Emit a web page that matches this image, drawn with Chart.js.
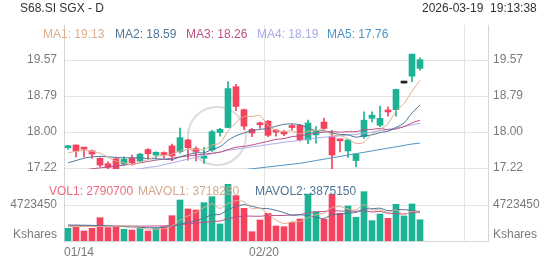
<!DOCTYPE html>
<html>
<head>
<meta charset="utf-8">
<title>S68.SI SGX - D</title>
<script src="https://cdn.jsdelivr.net/npm/chart.js@4.4.1/dist/chart.umd.min.js"></script>
<style>
  html, body { margin: 0; padding: 0; background: #fff; }
  #wrap { position: relative; width: 552px; height: 265px; overflow: hidden;
          font-family: 'Liberation Sans', Arial, sans-serif; font-size: 12px; }
  #chart { position: absolute; left: 0; top: 0; }
  .txt { position: absolute; white-space: pre; line-height: 14px; }
</style>
</head>
<body>
<div id="wrap">
  <canvas id="chart" width="552" height="265"></canvas>
  <div class="txt" style="left:20px;top:1px;color:#333">S68.SI SGX - D</div>
  <div class="txt" style="left:422px;top:1px;color:#333">2026-03-19  19:13:38</div>
</div>
<script>
// ---- data ----
const dates = ['01/14','01/15','01/16','01/19','01/20','01/21','01/22','01/23','01/26','01/27','01/28','01/29','01/30',
  '02/02','02/03','02/04','02/05','02/06','02/09','02/10','02/11','02/12','02/13','02/16','02/19','02/20',
  '02/23','02/24','02/25','02/26','02/27','03/02','03/03','03/04','03/05','03/06',
  '03/09','03/10','03/11','03/12','03/13','03/16','03/17','03/18','03/19'];
const emptySlots = 8;

const opens  = [17.66,17.72,17.66,17.59,17.43,17.31,17.42,17.30,17.43,17.37,17.62,17.50,17.54,17.70,17.57,17.83,17.64,17.43,17.61,17.99,
  18.10,18.99,18.49,18.06,18.18,18.24,18.03,18.00,18.12,18.15,17.83,17.94,18.22,17.90,17.84,17.59,17.38,17.90,18.30,18.15,
  18.47,18.49,19.07,19.22,19.39];
const highs  = [17.71,17.72,17.66,17.61,17.44,17.35,17.44,17.46,17.50,17.54,17.64,17.57,17.57,17.74,18.09,17.84,17.68,17.67,18.04,18.08,
  19.10,19.04,18.50,18.08,18.22,18.25,18.06,18.04,18.17,18.17,18.26,18.12,18.30,18.04,17.84,17.84,17.53,18.44,18.44,18.57,
  18.55,18.94,19.07,19.70,19.62];
const lows   = [17.63,17.46,17.46,17.43,17.24,17.18,17.17,17.28,17.28,17.34,17.43,17.44,17.43,17.38,17.54,17.39,17.37,17.32,17.58,17.91,
  18.09,18.47,18.06,17.90,18.08,17.90,17.91,17.92,18.05,17.80,17.75,17.76,18.06,17.14,17.57,17.45,17.24,17.86,18.22,18.12,
  18.35,18.35,19.07,19.10,19.35];
const closes = [17.67,17.59,17.63,17.52,17.28,17.23,17.19,17.41,17.33,17.52,17.53,17.56,17.51,17.48,17.88,17.66,17.58,17.48,18.01,18.06,
  18.95,18.56,18.13,17.98,18.16,17.93,18.00,17.96,18.10,17.83,18.20,18.04,18.08,17.50,17.81,17.83,17.52,18.26,18.37,18.30,
  18.44,18.93,19.07,19.70,19.58];

const ma1 = [17.55,17.58,17.60,17.58,17.54,17.45,17.37,17.33,17.29,17.34,17.40,17.47,17.49,17.52,17.59,17.62,17.62,17.62,17.72,17.76,
  18.02,18.21,18.34,18.34,18.36,18.15,18.04,18.01,18.03,17.96,18.02,18.03,18.05,17.93,17.93,17.85,17.75,17.78,17.96,18.06,
  18.18,18.46,18.62,18.89,19.13];
const ma2 = [17.33,17.38,17.43,17.46,17.47,17.46,17.45,17.44,17.44,17.44,17.42,17.42,17.41,17.40,17.46,17.51,17.55,17.55,17.62,17.68,
  17.82,17.92,17.98,18.03,18.06,18.08,18.13,18.17,18.18,18.16,18.09,18.03,18.03,17.98,17.95,17.94,17.89,17.92,17.94,17.99,
  18.02,18.10,18.20,18.42,18.59];
const ma3 = [17.12,17.14,17.17,17.20,17.22,17.24,17.26,17.28,17.30,17.33,17.36,17.39,17.41,17.43,17.46,17.48,17.50,17.52,17.54,17.56,
  17.62,17.67,17.69,17.72,17.76,17.80,17.84,17.86,17.90,17.92,17.95,17.98,18.00,18.01,18.00,18.01,18.01,18.05,18.06,18.08,
  18.05,18.07,18.12,18.20,18.26];
const ma4 = [16.98,17.00,17.03,17.05,17.08,17.10,17.13,17.15,17.18,17.20,17.23,17.25,17.29,17.33,17.37,17.41,17.45,17.49,17.53,17.57,
  17.60,17.63,17.65,17.68,17.70,17.73,17.75,17.78,17.80,17.82,17.85,17.87,17.89,17.90,17.92,17.94,17.95,17.98,18.00,18.03,
  18.06,18.09,18.12,18.16,18.19];
const ma5 = [16.93,16.935,16.94,16.95,16.955,16.96,16.965,16.97,16.98,16.99,17.00,17.01,17.02,17.035,17.05,17.06,17.075,17.09,17.10,17.12,
  17.14,17.16,17.18,17.20,17.22,17.24,17.26,17.28,17.30,17.32,17.35,17.38,17.41,17.44,17.47,17.50,17.53,17.56,17.59,17.62,
  17.65,17.68,17.71,17.74,17.76];

const volumes = [1670000,1800000,1310000,1670000,3060000,1750000,1880000,1530000,1440000,1750000,1310000,1670000,1880000,3320000,5380000,
  4200000,4070000,5030000,5820000,2230000,7440000,5950000,4290000,1220000,2760000,3630000,1970000,1880000,2410000,2890000,
  6170000,3850000,2840000,6120000,3630000,4590000,3110000,6470000,2670000,3540000,2970000,4810000,3280000,4860000,2790700];
const mavol1 = [1.88e6,1.88e6,1.89e6,1.90e6,1.90e6,1.92e6,1.93e6,1.98e6,1.93e6,1.67e6,1.58e6,1.54e6,1.61e6,1.99e6,2.71e6,
  3.29e6,3.77e6,4.40e6,4.90e6,4.27e6,4.92e6,5.29e6,5.15e6,4.23e6,4.33e6,3.57e6,2.77e6,2.29e6,2.53e6,2.56e6,
  3.06e6,3.44e6,3.63e6,4.37e6,4.52e6,4.21e6,4.06e6,4.78e6,4.09e6,4.08e6,3.75e6,4.09e6,3.45e6,3.89e6,3718280];
const mavol2 = [2.10e6,2.09e6,2.07e6,2.05e6,2.02e6,1.98e6,1.93e6,1.88e6,1.83e6,1.79e6,1.75e6,1.74e6,1.79e6,1.96e6,2.19e6,
  2.44e6,2.66e6,3.01e6,3.44e6,3.49e6,4.10e6,4.53e6,4.77e6,4.56e6,4.30e6,4.24e6,4.03e6,3.72e6,3.38e6,3.44e6,
  3.32e6,3.11e6,2.96e6,3.45e6,3.54e6,3.64e6,3.75e6,4.21e6,4.23e6,4.30e6,3.98e6,4.08e6,4.12e6,3.99e6,3875150];
const mavol3 = [2.00e6,2.00e6,1.99e6,1.99e6,1.98e6,1.98e6,1.97e6,1.97e6,1.96e6,1.96e6,1.96e6,1.97e6,1.99e6,2.05e6,2.15e6,
  2.25e6,2.35e6,2.45e6,2.55e6,2.64e6,2.93e6,3.13e6,3.28e6,3.26e6,3.25e6,3.34e6,3.34e6,3.36e6,3.41e6,3.47e6,
  3.71e6,3.82e6,3.87e6,4.01e6,3.92e6,3.94e6,3.89e6,3.96e6,3.81e6,3.87e6,3.65e6,3.59e6,3.54e6,3.72e6,3.72e6];

const priceTicks = [17.2175, 18.0025, 18.7875, 19.5725];
const volTick = 4723450;
const volUnit = 'Kshares';

// ---- style ----
const TEAL = '#1bb394', RED = '#f4425f', FLAT = '#222';
const GRID = '#e4e4e4', BORDER = '#d6d6d6', TEXT = '#7a7a7a';
const maNames = ['MA1', 'MA2', 'MA3', 'MA4', 'MA5'];
const maColors = ['#dcae8f', '#4f7598', '#bd4f86', '#aaaaea', '#4a94c4'];
const maLegendX = [43, 115, 186, 257, 327];
const volNames = ['VOL1', 'MAVOL1', 'MAVOL2'];
const volLegendColors = ['#f0687c', '#d3a98d', '#4f7598'];
const volLegendX = [49, 138, 255];
const mavolColors = ['#dcae8f', '#4f7598', '#bd4f86'];

Chart.defaults.font.family = "'Liberation Sans', Arial, sans-serif";
Chart.defaults.font.size = 12;
Chart.defaults.color = TEXT;

const labels = dates.concat(Array(emptySlots).fill(''));
const candleColors = opens.map((o, i) => closes[i] > o ? TEAL : closes[i] < o ? RED : FLAT);
const volColors = opens.map((o, i) => closes[i] >= o ? TEAL : RED);

// legends (html text)
const wrap = document.getElementById('wrap');
function addText(text, x, y, color) {
  const d = document.createElement('div');
  d.className = 'txt';
  d.style.left = x + 'px';
  d.style.top = y + 'px';
  d.style.color = color;
  d.textContent = text;
  wrap.appendChild(d);
}
[ma1, ma2, ma3, ma4, ma5].forEach((s, i) => addText(maNames[i] + ': ' + s[s.length - 1].toFixed(2), maLegendX[i], 27, maColors[i]));
[volumes, mavol1, mavol2].forEach((s, i) => addText(volNames[i] + ': ' + s[s.length - 1], volLegendX[i], 184, volLegendColors[i]));

// faint logo watermark behind the candles
const watermark = {
  id: 'watermark',
  beforeDatasetsDraw(chart) {
    const ctx = chart.ctx;
    ctx.save();
    ctx.strokeStyle = 'rgba(190,190,190,0.55)';
    ctx.lineWidth = 2;
    ctx.beginPath();
    ctx.arc(217, 136, 29, 0, Math.PI * 2);
    ctx.stroke();
    ctx.restore();
  }
};

const lineDs = (data, color, axis) => ({
  type: 'line', data, yAxisID: axis, borderColor: color, borderWidth: 1,
  pointRadius: 0, tension: 0.25, fill: false, order: 0
});

const fixWidth = w => scale => { scale.width = w; };
const priceAxis = (pos, weight, pad, grid) => ({
  type: 'linear', position: pos, stack: pos, stackWeight: 144, weight,
  min: 17.1957, max: 20.3357,
  afterBuildTicks: s => { s.ticks = priceTicks.map(v => ({ value: v })); },
  afterFit: fixWidth(64),
  grid: { display: grid, color: GRID, drawTicks: false },
  border: { display: true, color: BORDER },
  ticks: { padding: pad, callback: v => v.toFixed(2) }
});
const volAxis = (pos, weight, pad, grid) => ({
  type: 'linear', position: pos, stack: pos, stackWeight: 72, weight,
  min: 0, max: volTick * 2,
  afterBuildTicks: s => { s.ticks = [{ value: volTick * 2 / 12 }, { value: volTick }]; },
  afterFit: fixWidth(64),
  grid: { display: grid, drawTicks: false, color: c => (c.tick && c.tick.value === volTick) ? GRID : 'rgba(0,0,0,0)' },
  border: { display: true, color: BORDER },
  ticks: { padding: pad, callback: v => v === volTick ? String(volTick) : volUnit }
});

new Chart(document.getElementById('chart'), {
  type: 'bar',
  data: {
    labels,
    datasets: [
      { data: lows.map((l, i) => [l, highs[i]]), yAxisID: 'yP', backgroundColor: candleColors,
        barThickness: 1, grouped: false, order: 2 },
      { data: opens.map((o, i) => [o, closes[i]]), yAxisID: 'yP', backgroundColor: candleColors,
        barThickness: 6, minBarLength: 2, grouped: false, order: 1 },
      { data: volumes, yAxisID: 'yV', backgroundColor: volColors, barThickness: 6, grouped: false, order: 3 },
      lineDs(ma1, maColors[0], 'yP'),
      lineDs(ma2, maColors[1], 'yP'),
      lineDs(ma3, maColors[2], 'yP'),
      lineDs(ma4, maColors[3], 'yP'),
      lineDs(ma5, maColors[4], 'yP'),
      lineDs(mavol1, mavolColors[0], 'yV'),
      lineDs(mavol2, mavolColors[1], 'yV'),
      lineDs(mavol3, mavolColors[2], 'yV')
    ]
  },
  options: {
    responsive: false,
    animation: false,
    events: [],
    layout: { padding: { top: 25 } },
    plugins: { legend: { display: false }, tooltip: { enabled: false } },
    scales: {
      x: {
        offset: true,
        afterFit: s => { s.height = 24; },
        grid: { offset: true, drawTicks: false, color: c => (c.index % 25 === 0) ? GRID : 'rgba(0,0,0,0)' },
        border: { display: true, color: BORDER },
        ticks: {
          autoSkip: false, maxRotation: 0, padding: 4, align: 'inner', labelOffset: -4,
          callback(v, i) { return i % 25 === 0 ? this.getLabelForValue(v) : ''; }
        }
      },
      yP: priceAxis('left', 1, 7, true),
      yV: volAxis('left', 0, 7, true),
      yP2: priceAxis('right', 0, 5, false),
      yV2: volAxis('right', 1, 5, false)
    }
  },
  plugins: [watermark]
});
</script>
</body>
</html>
